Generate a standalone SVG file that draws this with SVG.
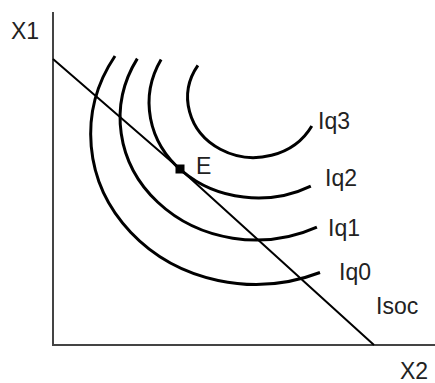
<svg xmlns="http://www.w3.org/2000/svg" width="435" height="383" viewBox="0 0 435 383">
<style>
.ax{stroke:#444;stroke-width:2;fill:none}
.iq{stroke:#000;stroke-width:3;fill:none}
.ln{stroke:#000;stroke-width:2;fill:none;stroke-linejoin:round}
text{font-family:"Liberation Sans",Arial,sans-serif;font-size:23px;fill:#222}
</style>
<rect width="435" height="383" fill="#fff"/>
<g id="axes">
<path class="ax" d="M53,12 V345 H435"/>
<text x="11" y="39">X1</text>
<text x="400" y="379">X2</text>
</g>
<g id="iq0">
<path class="iq" d="M115,56 A165,150 0 0 0 320,272.5"/>
<text x="339" y="280">Iq0</text>
</g>
<g id="iq1">
<path class="iq" d="M137.3,58.6 A136,122 0 0 0 316.9,227.1"/>
<text x="328" y="236">Iq1</text>
</g>
<g id="iq2">
<path class="iq" d="M161.1,59.6 A109,95 0 0 0 310.8,186.1"/>
<text x="325" y="186">Iq2</text>
</g>
<g id="iq3">
<path class="iq" d="M197.9,65.4 A66,60 0 1 0 311.8,125.9"/>
<text x="318" y="129">Iq3</text>
</g>
<g id="isoc">
<polyline class="ln" points="53,59 180,169 374,345"/>
<text x="376" y="314">Isoc</text>
</g>
<g id="E">
<rect x="175.5" y="164.5" width="9" height="9" fill="#000"/>
<text x="196" y="174">E</text>
</g>
</svg>
